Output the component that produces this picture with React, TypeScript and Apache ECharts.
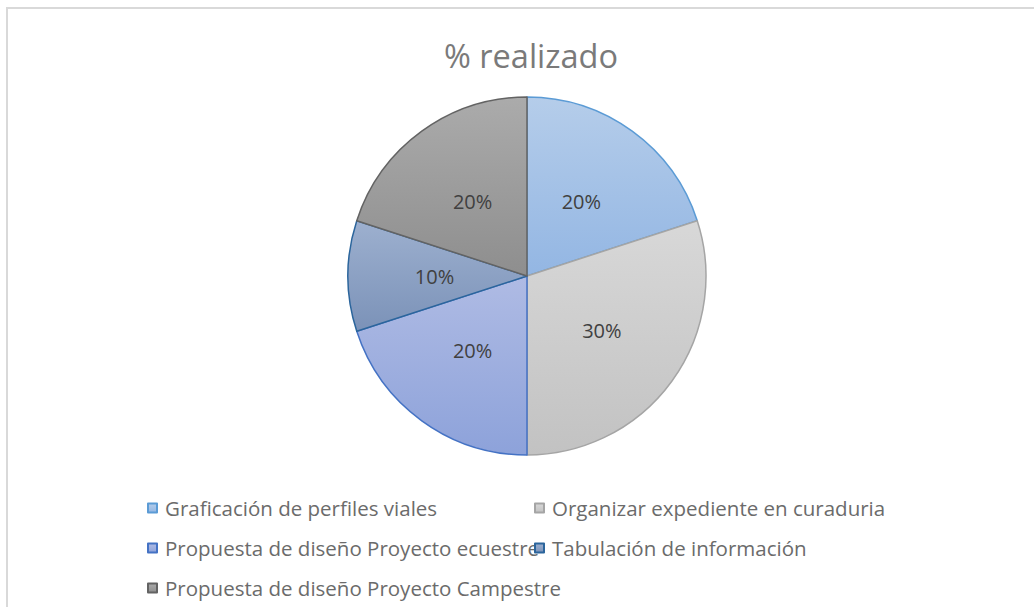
import React, { useEffect, useRef } from "react";
import * as echarts from "echarts";

const categories = [
  "Graficación de perfiles viales",
  "Organizar expediente en curaduria",
  "Propuesta de diseño Proyecto ecuestre",
  "Tabulación de información",
  "Propuesta de diseño Proyecto Campestre",
];
const values = [20, 30, 20, 10, 20];
const title = "% realizado";

const fills: [string, string, string][] = [
  ["#b5cdea", "#93b6e3", "#5b9bd5"],
  ["#d8d8d8", "#c2c2c2", "#a5a5a5"],
  ["#afbbe4", "#8da2da", "#4472c4"],
  ["#9db0cf", "#7b92b8", "#2b659c"],
  ["#ababab", "#8e8e8e", "#636363"],
];

const legendPos = [
  { left: 147, top: 497 },
  { left: 534, top: 497 },
  { left: 147, top: 537 },
  { left: 534, top: 537 },
  { left: 147, top: 577 },
];

export default function App() {
  const ref = useRef<HTMLDivElement>(null);
  useEffect(() => {
    document.body.style.margin = "0";
    const chart = echarts.init(ref.current!, undefined, { renderer: "svg" });
    const font = "'Open Sans', sans-serif";
    chart.setOption({
      animation: false,
      backgroundColor: "#ffffff",
      title: {
        text: title,
        left: 444,
        top: 39,
        padding: 0,
        textStyle: { fontFamily: font, fontSize: 32.5, fontWeight: "normal", color: "#7a7a7a" },
      },
      graphic: [
        {
          type: "rect",
          shape: { x: 7, y: 8, width: 1040, height: 620 },
          style: { fill: "none", stroke: "#d9d9d9", lineWidth: 2 },
          silent: true,
        },
      ],
      legend: categories.map((c, i) => ({
        data: [c],
        left: legendPos[i].left,
        top: legendPos[i].top,
        orient: "horizontal",
        selectedMode: false,
        icon: "rect",
        itemWidth: 9,
        itemHeight: 9,
        itemGap: 0,
        padding: 0,
        textStyle: { fontFamily: font, fontSize: 20.5, lineHeight: 22, color: "#6b6b6b", padding: [0, 0, 0, 3] },
      })),
      series: [
        {
          type: "pie",
          center: [527, 276],
          radius: 179,
          startAngle: 90,
          clockwise: true,
          label: {
            show: true,
            position: "inside",
            formatter: (p: any) => `${p.value}%`,
            fontFamily: font,
            fontSize: 20,
            color: "#404040",
          },
          labelLine: { show: false },
          emphasis: { disabled: true },
          data: categories.map((c, i) => ({
            name: c,
            value: values[i],
            itemStyle: {
              color: new echarts.graphic.LinearGradient(0, 0, 0, 1, [
                { offset: 0, color: fills[i][0] },
                { offset: 1, color: fills[i][1] },
              ]),
              borderColor: fills[i][2],
              borderWidth: 1.5,
            },
          })),
        },
      ],
    });
    return () => chart.dispose();
  }, []);
  return <div ref={ref} style={{ width: 1034, height: 607 }} />;
}
